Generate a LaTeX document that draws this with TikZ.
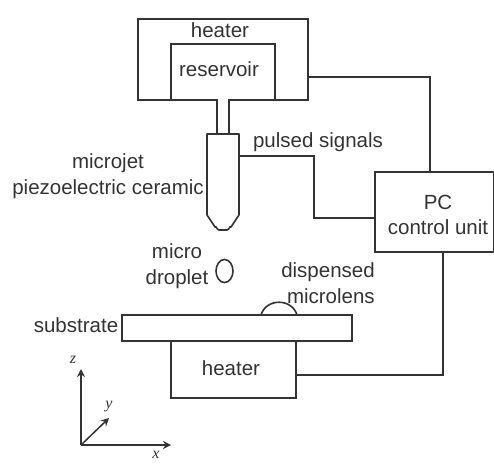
\documentclass[tikz,border=0pt]{standalone}
\usepackage{fontspec}
\setmainfont{Liberation Sans}
\newfontfamily\axisfont{Liberation Serif}
\usetikzlibrary{arrows.meta,calc}
\definecolor{ink}{gray}{0.2}
\tikzset{
  part/.style={draw=ink,line width=1.6pt,inner sep=0pt,outer sep=0pt},
  wire/.style={draw=ink,line width=1.5pt},
  lbl/.style={text=ink,font=\fontsize{20.5}{25.5}\selectfont,inner sep=0pt,align=center},
  axislbl/.style={text=ink,font=\fontsize{16}{16}\selectfont\axisfont\itshape,inner sep=0pt},
  axis/.style={draw=ink,line width=1.5pt,-{Stealth[length=8pt,width=8pt]}}
}
\begin{document}
\begin{tikzpicture}[x=1pt,y=-1pt]
\useasboundingbox (0,0) rectangle (494,463);
% boxes
\node[part,minimum width=170pt,minimum height=81pt] (hTop) at (223,59.5) {};
\node[part,minimum width=104pt,minimum height=56pt] (res) at (223,72) {};
\node[part,minimum width=119pt,minimum height=80pt] (pc) at (434.5,212) {};
\node[part,minimum width=230pt,minimum height=26pt] (sub) at (237,328) {};
\node[part,minimum width=125pt,minimum height=57pt] (hBot) at (233.5,369.5) {};
% tube and microjet
\coordinate (jetTL) at (207,134);
\coordinate (jetTR) at (239,134);
\coordinate (t1) at (217,100);
\coordinate (t2) at (229,100);
\draw[part] (t1) -- (217,134);
\draw[part] (t2) -- (229,134);
\draw[white,line width=2pt] (218.2,100) -- (227.8,100);
\draw[part,line join=round] (jetTL) -- (207,215) -- (215,227) to[out=55,in=180] (219,230) -- (227,230) to[out=0,in=125] (231,227) -- (239,215) -- (jetTR) -- cycle;
\coordinate (jetOut) at (239,156);
% droplet
\draw[part] (224.5,271) ellipse [x radius=8.5,y radius=11.5];
% lens
\coordinate (lensL) at (261,315);
\coordinate (lensR) at (297,315);
\draw[part] (lensL) .. controls (266,298) and (292,298) .. (lensR);
% wires
\coordinate (a1) at (314,156);
\coordinate (a2) at (314,218);
\coordinate (b1) at (430,77);
\coordinate (c1) at (443,375);
\draw[wire] (jetOut) -- (a1) -- (a2) -- (a2 -| pc.west);
\draw[wire] (b1 -| hTop.east) -- (b1) -- (b1 |- pc.north);
\draw[wire] (c1 |- pc.south) -- (c1) -- (c1 -| hBot.east);
% labels
\node[lbl] (tHeat) at (220,30) {heater};
\node[lbl] (tRes) at (219,69) {reservoir};
\node[lbl] (tPulsed) at (318,142) {pulsed signals};
\node[lbl] (tJet) at (108,176) {microjet\\piezoelectric ceramic};
\node[lbl] (tDrop) at (177,266) {micro\\droplet};
\node[lbl,align=right] (tLens) at (328,283) {dispensed\\microlens};
\node[lbl] (tSub) at (76,325) {substrate};
\node[lbl] (tHeatB) at (231,368) {heater};
\node[lbl] (tPC) at (438,215) {PC\\control unit};
% axes
\coordinate (o) at (81,445);
\coordinate (zEnd) at (81,369);
\coordinate (xEnd) at (171,445);
\coordinate (yEnd) at (109,418);
\draw[axis] (o) -- (zEnd);
\draw[axis] (o) -- (xEnd);
\draw[axis] (o) -- (yEnd);
\node[axislbl] (tz) at (73,360) {z};
\node[axislbl] (ty) at (109,407) {y};
\node[axislbl] (tx) at (156,455) {x};
\end{tikzpicture}
\end{document}
